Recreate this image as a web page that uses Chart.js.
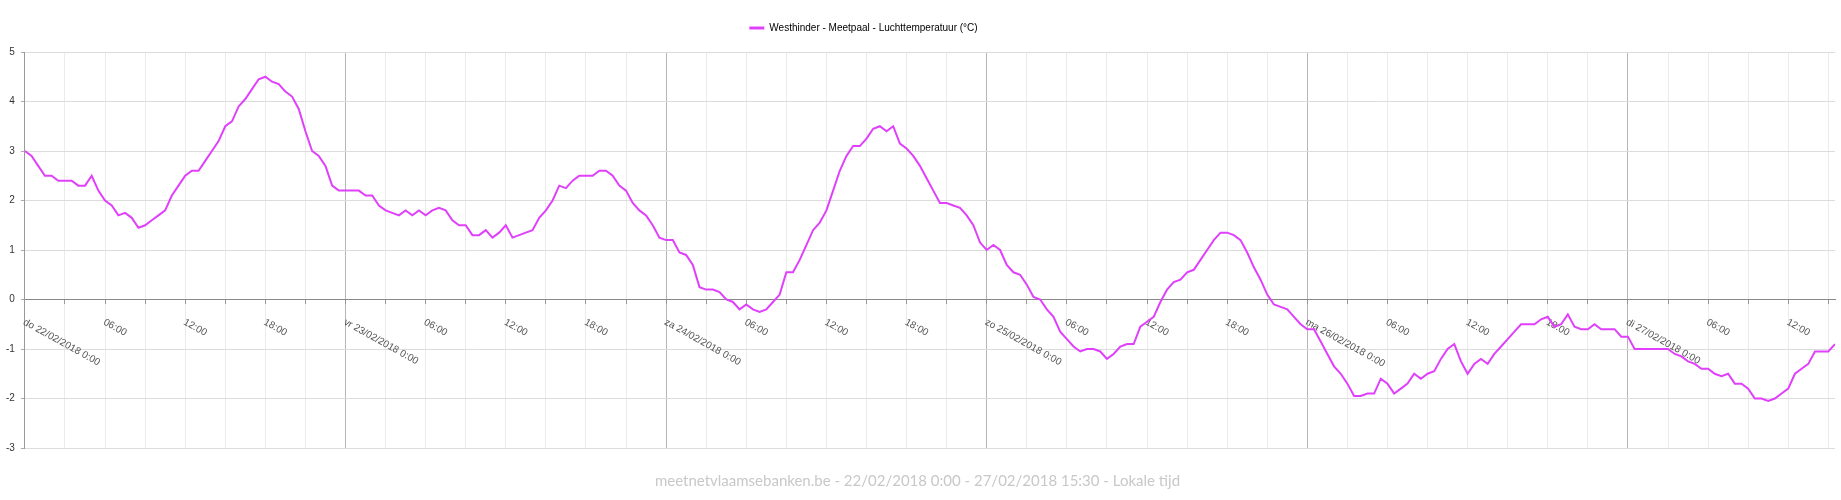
<!DOCTYPE html>
<html>
<head>
<meta charset="utf-8">
<title>Westhinder - Luchttemperatuur</title>
<script src="https://cdn.jsdelivr.net/npm/chart.js@4.4.1/dist/chart.umd.min.js"></script>
<style>
  html, body { margin: 0; padding: 0; background: #fff; }
  canvas { display: block; }
</style>
</head>
<body>
<canvas id="tempChart" width="1841" height="500"></canvas>
<script>
// half-hourly readings, one array per day (00:00 .. 23:30)
var day22 = [3.0, 2.9, 2.7, 2.5, 2.5, 2.4, 2.4, 2.4, 2.3, 2.3, 2.5, 2.2, 2.0, 1.9, 1.7, 1.75, 1.65, 1.45, 1.5, 1.6, 1.7, 1.8, 2.1, 2.3,
             2.5, 2.6, 2.6, 2.8, 3.0, 3.2, 3.5, 3.6, 3.9, 4.05, 4.25, 4.45, 4.5, 4.4, 4.35, 4.2, 4.1, 3.85, 3.4, 3.0, 2.9, 2.7, 2.3, 2.2];
var day23 = [2.2, 2.2, 2.2, 2.1, 2.1, 1.9, 1.8, 1.75, 1.7, 1.8, 1.7, 1.8, 1.7, 1.8, 1.85, 1.8, 1.6, 1.5, 1.5, 1.3, 1.3, 1.4, 1.25, 1.35,
             1.5, 1.25, 1.3, 1.35, 1.4, 1.65, 1.8, 2.0, 2.3, 2.25, 2.4, 2.5, 2.5, 2.5, 2.6, 2.6, 2.5, 2.3, 2.2, 1.95, 1.8, 1.7, 1.5, 1.25];
var day24 = [1.2, 1.2, 0.95, 0.9, 0.7, 0.25, 0.2, 0.2, 0.15, 0.0, -0.05, -0.2, -0.1, -0.2, -0.25, -0.2, -0.05, 0.1, 0.55, 0.55, 0.8, 1.1, 1.4, 1.55,
             1.8, 2.2, 2.6, 2.9, 3.1, 3.1, 3.25, 3.45, 3.5, 3.4, 3.5, 3.15, 3.05, 2.9, 2.7, 2.45, 2.2, 1.95, 1.95, 1.9, 1.85, 1.7, 1.5, 1.15];
var day25 = [1.0, 1.1, 1.0, 0.7, 0.55, 0.5, 0.3, 0.05, 0.0, -0.2, -0.35, -0.65, -0.8, -0.95, -1.05, -1.0, -1.0, -1.05, -1.2, -1.1, -0.95, -0.9, -0.9, -0.55,
             -0.45, -0.35, -0.05, 0.2, 0.35, 0.4, 0.55, 0.6, 0.8, 1.0, 1.2, 1.35, 1.35, 1.3, 1.2, 0.95, 0.65, 0.4, 0.1, -0.1, -0.15, -0.2, -0.35, -0.5];
var day26 = [-0.6, -0.6, -0.85, -1.1, -1.35, -1.5, -1.7, -1.95, -1.95, -1.9, -1.9, -1.6, -1.7, -1.9, -1.8, -1.7, -1.5, -1.6, -1.5, -1.45, -1.2, -1.0, -0.9, -1.25,
             -1.5, -1.3, -1.2, -1.3, -1.1, -0.95, -0.8, -0.65, -0.5, -0.5, -0.5, -0.4, -0.35, -0.55, -0.5, -0.3, -0.55, -0.6, -0.6, -0.5, -0.6, -0.6, -0.6, -0.75];
// 27/02 runs until 15:30
var day27 = [-0.75, -1.0, -1.0, -1.0, -1.0, -1.0, -1.0, -1.1, -1.15, -1.25, -1.3, -1.4, -1.4, -1.5, -1.55, -1.5,
             -1.7, -1.7, -1.8, -2.0, -2.0, -2.05, -2.0, -1.9, -1.8, -1.5, -1.4, -1.3, -1.05, -1.05, -1.05, -0.9];

var dayLabels = ['do 22/02/2018 0:00', 'vr 23/02/2018 0:00', 'za 24/02/2018 0:00',
                 'zo 25/02/2018 0:00', 'ma 26/02/2018 0:00', 'di 27/02/2018 0:00'];
var hourLabels = { 6: '06:00', 12: '12:00', 18: '18:00' };
var yTicks = [-3, -2, -1, 0, 1, 2, 3, 4, 5];

var seriesName = 'Westhinder - Meetpaal - Luchttemperatuur (°C)';
var footerText = 'meetnetvlaamsebanken.be - 22/02/2018 0:00 - 27/02/2018 15:30 - Lokale tijd';
var lineColor = '#e040fb';
var stepHours = 0.5;
var endHours = 135.5;

var temps = [].concat(day22, day23, day24, day25, day26, day27);
var points = temps.map(function (v, i) { return { x: i * stepHours, y: v }; });

function xLabel(h) {
  if (h % 24 === 0) return dayLabels[h / 24] || '';
  return hourLabels[h % 24] || '';
}

// slanted x labels hanging below the zero line
var slantedLabels = {
  id: 'slantedLabels',
  beforeDatasetsDraw: function (chart) {
    var xs = chart.scales.x, ys = chart.scales.y, ctx = chart.ctx;
    var y0 = ys.getPixelForValue(0);
    ctx.save();
    ctx.font = '10px "Liberation Sans", Arial, sans-serif';
    ctx.fillStyle = '#555';
    ctx.textAlign = 'left';
    ctx.textBaseline = 'middle';
    xs.ticks.forEach(function (t) {
      var label = xLabel(t.value);
      if (!label) return;
      ctx.save();
      ctx.translate(xs.getPixelForValue(t.value) - 1, y0 + 22);
      ctx.rotate(29 * Math.PI / 180);
      ctx.fillText(label, 0, 0);
      ctx.restore();
    });
    ctx.restore();
  }
};

// the original legend sits a bit left of centre and higher than the layout puts it
var legendShift = {
  id: 'legendShift',
  afterLayout: function (chart) {
    chart.legend.left -= 54;
    chart.legend.right -= 54;
    chart.legend.top -= 9;
    chart.legend.bottom -= 9;
  }
};

var ctx = document.getElementById('tempChart').getContext('2d');
new Chart(ctx, {
  type: 'line',
  data: {
    datasets: [{
      label: seriesName,
      data: points,
      borderColor: lineColor,
      backgroundColor: lineColor,
      borderWidth: 2,
      pointRadius: 0,
      tension: 0,
      fill: false
    }]
  },
  options: {
    responsive: false,
    animation: false,
    layout: { padding: { left: 0, right: 6, top: 22, bottom: 0 } },
    plugins: {
      legend: {
        position: 'top',
        labels: {
          boxWidth: 15,
          boxHeight: 3,
          padding: 10,
          color: '#444',
          font: { family: '"Liberation Sans", Arial, sans-serif', size: 10 },
          generateLabels: function () {
            return [{ text: seriesName, fillStyle: lineColor, strokeStyle: lineColor, lineWidth: 0, datasetIndex: 0 }];
          }
        }
      },
      title: {
        display: true,
        position: 'bottom',
        text: footerText,
        color: '#c8c8c8',
        font: { family: 'Lato, "Open Sans", sans-serif', size: 15, weight: 'normal', lineHeight: 1.2 },
        padding: { top: 24, bottom: 10 }
      },
      tooltip: { enabled: false }
    },
    scales: {
      x: {
        type: 'linear',
        position: { y: 0 },
        min: 0,
        max: endHours,
        ticks: { display: false, stepSize: 3, includeBounds: false },
        grid: {
          color: function (c) { return c.tick && c.tick.value % 24 === 0 ? '#b5b5b5' : '#ebebeb'; },
          tickColor: '#999',
          tickLength: 4
        },
        border: { color: '#888', width: 1 }
      },
      y: {
        min: yTicks[0],
        max: yTicks[yTicks.length - 1],
        afterBuildTicks: function (axis) { axis.ticks = yTicks.map(function (v) { return { value: v }; }); },
        ticks: {
          color: '#333',
          padding: 6,
          font: { family: '"Liberation Sans", Arial, sans-serif', size: 10 }
        },
        grid: { color: '#dcdcdc', tickColor: '#aaa', tickLength: 4 },
        border: { color: '#999', width: 1 }
      }
    }
  },
  plugins: [slantedLabels, legendShift]
});
</script>
</body>
</html>
